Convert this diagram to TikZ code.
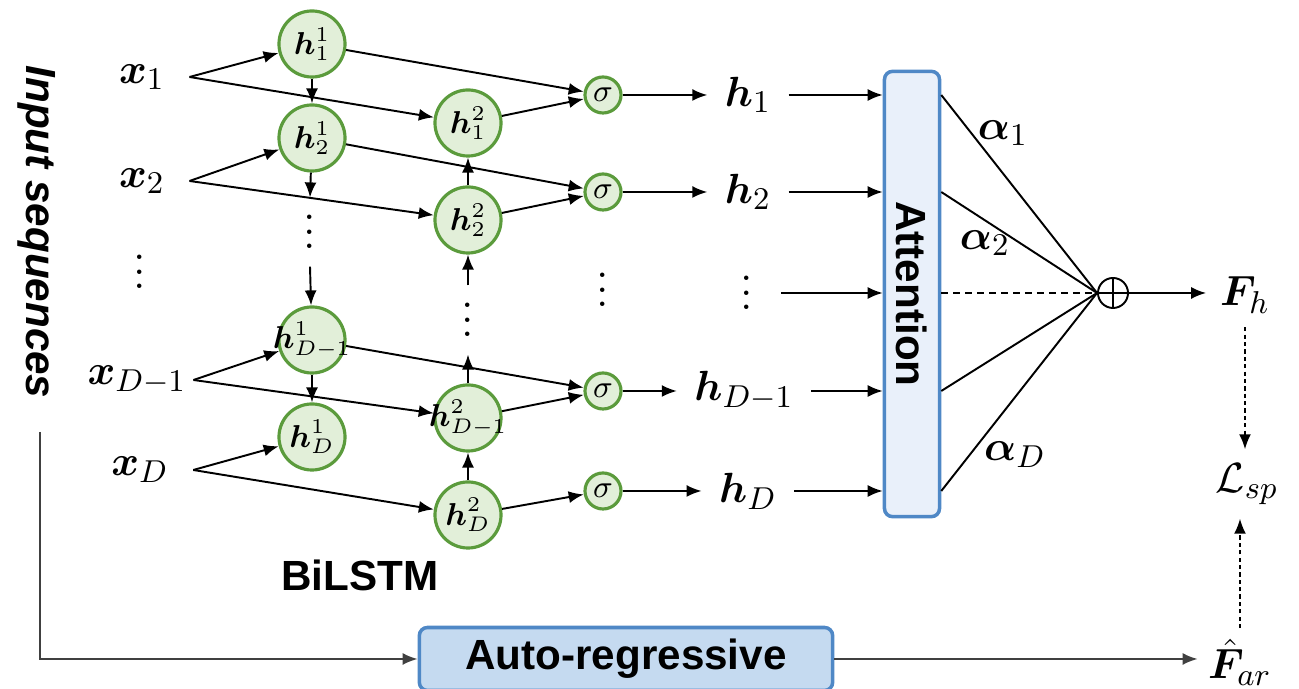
\documentclass[tikz,border=0pt]{standalone}
\usepackage{fontspec}
\setsansfont{Liberation Sans}
\usepackage{amsmath,bm}
\usetikzlibrary{arrows.meta}

\definecolor{cellfill}{HTML}{E2EFD9}
\definecolor{celldraw}{HTML}{5B9B3C}
\definecolor{attfill}{HTML}{E9F0FA}
\definecolor{blueline}{HTML}{4F88C6}
\definecolor{arfill}{HTML}{C5DAF0}

% compact vertical ellipsis, centred on its dots
\newcommand{\vdotsx}{\vbox{\baselineskip4.2pt\lineskiplimit0pt\hbox{.}\hbox{.}\hbox{.}}}
% cell label that may run past the circle without widening it
\newcommand{\cl}[1]{\makebox[0pt]{$#1$}}

\tikzset{
  cell/.style={circle,draw=celldraw,fill=cellfill,line width=0.9pt,
    minimum size=0.66cm,inner sep=0pt,font=\fontsize{9}{10}\selectfont},
  gate/.style={circle,draw=celldraw,fill=cellfill,line width=0.9pt,
    minimum size=0.36cm,inner sep=0pt,font=\fontsize{9}{10}\selectfont},
  lbl/.style={inner sep=1pt,font=\fontsize{13}{15}\selectfont},
  xin/.style={lbl,outer xsep=6pt},
  hout/.style={lbl,outer xsep=4pt},
  dts/.style={inner sep=0pt,outer ysep=5pt,font=\fontsize{13}{15}\selectfont},
  arr/.style={-{Latex[length=1.5mm,width=1.2mm]},line width=0.55pt},
  ln/.style={line width=0.55pt},
  dsh/.style={-{Latex[length=1.5mm,width=1.2mm]},line width=0.5pt,dash pattern=on 1.2pt off 0.9pt},
  boxlbl/.style={font=\sffamily\bfseries\fontsize{12}{14}\selectfont},
}

\begin{document}
\begin{tikzpicture}[x=0.01cm,y=-0.01cm]
\useasboundingbox (0,0) rectangle (1299,689);

% inputs
\node[boxlbl,font=\sffamily\bfseries\itshape\fontsize{12}{14}\selectfont,rotate=-90] (inseq) at (37,232) {Input sequences};
\coordinate (inSrc) at (40,432);
\node[xin] (x1) at (142,77) {$\bm{x}_1$};
\node[xin] (x2) at (142,181) {$\bm{x}_2$};
\node[dts] (xdots) at (140,272) {\vdotsx};
\node[lbl,outer xsep=1pt] (xD1) at (137,380) {$\bm{x}_{D-1}$};
\node[xin] (xD) at (140,470) {$\bm{x}_D$};

% forward layer
\node[cell] (h11) at (312,44) {\cl{\bm{h}^1_1}};
\node[cell] (h12) at (312,138) {\cl{\bm{h}^1_2}};
\node[dts] (h1dots) at (310,232) {\vdotsx};
\node[cell] (h1D1) at (312,340) {\cl{\bm{h}^1_{D-1}}};
\node[cell] (h1D) at (312,437) {\cl{\bm{h}^1_D}};

% backward layer
\node[cell] (h21) at (468,123) {\cl{\bm{h}^2_1}};
\node[cell] (h22) at (468,220) {\cl{\bm{h}^2_2}};
\node[dts] (h2dots) at (468,320) {\vdotsx};
\node[cell] (h2D1) at (468,418) {\cl{\bm{h}^2_{D-1}}};
\node[cell] (h2D) at (468,515) {\cl{\bm{h}^2_D}};

\node[boxlbl] (bilstm) at (360,575) {BiLSTM};

% gates
\node[gate] (s1) at (603,95) {$\sigma$};
\node[gate] (s2) at (603,192) {$\sigma$};
\node[dts] (sdots) at (603,290) {\vdotsx};
\node[gate] (sD1) at (603,391) {$\sigma$};
\node[gate] (sD) at (603,491) {$\sigma$};

% hidden outputs
\node[hout] (o1) at (748,95) {$\bm{h}_1$};
\node[hout] (o2) at (748,192) {$\bm{h}_2$};
\node[dts,outer xsep=8pt] (odots) at (747,293) {\vdotsx};
\node[hout] (oD1) at (744,391) {$\bm{h}_{D-1}$};
\node[hout] (oD) at (748,491) {$\bm{h}_D$};

% attention block
\node[draw=blueline,fill=attfill,rounded corners=0.08cm,line width=1pt,
  minimum width=0.55cm,minimum height=4.45cm] (att) at (912,294) {};
\node[boxlbl,rotate=-90] (attlbl) at (att.center) {Attention};

% weighted sum
\node[circle,draw,line width=0.55pt,minimum size=0.3cm,inner sep=0pt,
  path picture={\draw[line width=0.55pt] (path picture bounding box.north) -- (path picture bounding box.south)
    (path picture bounding box.west) -- (path picture bounding box.east);}] (sum) at (1113,293) {};

\node[lbl] (a1) at (1003,133) {$\bm{\alpha}_1$};
\node[lbl] (a2) at (985,243) {$\bm{\alpha}_2$};
\node[lbl] (aD) at (1015,455) {$\bm{\alpha}_D$};

\node[lbl,outer sep=3pt] (Fh) at (1245,295) {$\bm{F}_h$};
\node[lbl,outer sep=3pt] (Lsp) at (1247,484) {$\mathcal{L}_{sp}$};
\node[lbl,outer sep=2pt] (Far) at (1240,662) {$\hat{\bm{F}}_{ar}$};

\node[draw=blueline,fill=arfill,rounded corners=0.08cm,line width=1pt,
  minimum width=4.13cm,minimum height=0.52cm,boxlbl] (ar) at (626,659) {Auto-regressive};

% input connections
\foreach \x/\a/\b in {x1/h11/h21, x2/h12/h22, xD1/h1D1/h2D1, xD/h1D/h2D} {
  \draw[arr] (\x.east) -- (\a);
  \draw[arr] (\x.east) -- (\b);
}

% recurrent connections
\draw[arr] (h11) -- (h12);
\draw[arr] (h12) -- (h1dots.north);
\draw[arr] (h1dots.south) -- (h1D1);
\draw[arr] (h1D1) -- (h1D);
\draw[arr] (h2D) -- (h2D1);
\draw[arr] (h2D1) -- (h2dots.south);
\draw[arr] (h2dots.north) -- (h22);
\draw[arr] (h22) -- (h21);

% into gates
\foreach \a/\b/\s in {h11/h21/s1, h12/h22/s2, h1D1/h2D1/sD1} {
  \draw[arr] (\a) -- (\s);
  \draw[arr] (\b) -- (\s);
}
\draw[arr] (h2D) -- (sD);

% gates to outputs, outputs to attention
\foreach \s/\o in {s1/o1, s2/o2, sD1/oD1, sD/oD} {
  \draw[arr] (\s) -- (\s -| \o.west);
  \draw[arr] (\o.east) -- (\o.east -| att.west);
}
\draw[arr] (odots.east) -- (odots.east -| att.west);

% attention weights
\foreach \o in {o1, o2, oD1, oD} {
  \draw[ln] (att.east |- \o.center) -- (sum.west);
}
\draw[ln,dash pattern=on 2pt off 1.4pt] (att.east |- odots.center) -- (sum.west);

\draw[arr] (sum) -- (sum -| Fh.west);
\draw[dsh] (Fh.south) -- (Fh.south |- Lsp.north);
\draw[dsh] (Far.north) -- (Far.north |- Lsp.south);

% auto-regressive branch
\draw[arr,black!75] (inSrc) |- (ar.west);
\draw[arr,black!75] (ar.east) -- (ar.east -| Far.west);
\end{tikzpicture}
\end{document}
